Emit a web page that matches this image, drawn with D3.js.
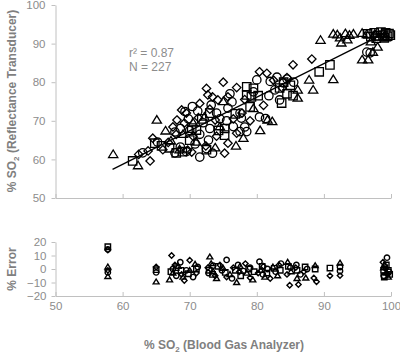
<!DOCTYPE html>
<html>
<head>
<meta charset="utf-8">
<script src="https://cdn.jsdelivr.net/npm/d3@7"></script>
<style>
  body { margin: 0; background: #fff; }
  text { font-family: "Liberation Sans", Arial, sans-serif; }
</style>
</head>
<body>
<div id="chart"></div>
<script>
// data: top panel [blood gas SO2, transducer SO2]
const triTop = [[58.6,61.3],[62.3,58.4],[65.1,70.2],[66.4,67.4],[70.5,69.5],[72.2,71],[73.8,63],[76.9,63.5],[75,75],[79.5,73.2],[81.6,70.2],[82.3,69.8],[86.1,78],[86.1,75.9],[87.8,80.6],[88.4,78],[91.4,80.7],[89.5,90.9],[91.4,92.5],[92,92.3],[92.6,90.2],[93.2,92.6],[93.8,92.2],[94.4,92.5],[95.7,92.7],[96.4,92.4],[95.7,85.8],[96.6,85.8],[97.3,87.8],[98,89.1],[97.6,92.5],[98.2,91.7],[98.8,92.6],[99.2,91.5],[92.4,91.5],[93.5,91],[97,90.5],[68.5,62.5],[67.2,64.8],[71,64.5],[78,65.5],[80.5,67.5],[74.5,68.5],[69,66.5]];
const diaTop = [[62.4,61.3],[63.8,62.2],[64.1,59.6],[64.5,65.5],[66.8,64.4],[67.5,68.4],[68.1,70.2],[68.8,72.8],[69.5,72],[69.7,62.4],[70.3,61.9],[72.5,78.4],[75,80],[77,78.6],[72.7,76.7],[73.4,76.2],[74.2,75.4],[75.7,76.2],[71.5,74.5],[73,73],[75.7,64.2],[75.2,61.6],[74,66],[72.4,63.5],[76.5,70.5],[77.8,72],[80.4,82.7],[81.5,82.3],[85.4,84.5],[88.2,86],[82.5,80.5],[83.8,78.5],[79,70],[81,74],[70.5,66],[68,66.5],[66,62.5],[71.3,70.8],[84.5,81.2],[78.2,75.5],[77,66.8],[73.8,70.2],[69.2,69.4]];
const cirTop = [[63,61.7],[65.2,64.5],[67.8,61.7],[68.6,63.2],[69.5,62],[67.8,67.1],[68.6,68],[69.3,72.4],[70.4,73.7],[71.5,60.6],[73.4,61.6],[72.5,62.8],[75.7,73.3],[76.3,74.9],[77.5,67.2],[78.2,68.4],[77.7,70.7],[77.5,72],[78.5,67.2],[80.4,71],[81.3,70.6],[80,80.6],[82,80.2],[83,81.3],[84,79.8],[84.5,80.8],[83.4,75.4],[72,69.5],[73,68],[71.5,66.5],[74.5,70.5],[70.8,64],[72.8,65],[76,77],[74,72],[73.2,74.1],[70,67.5],[69.8,70.5],[71.2,72.5],[79.5,77.5],[81.8,76.5],[96.4,87.8],[96.9,87.6],[85.5,80],[76.5,68.5],[75.5,70],[82.7,78]];
const sqTop = [[61.5,59.6],[65.8,63.5],[64.8,64.2],[68,61.7],[68.9,62],[70.3,68.1],[71,67.6],[75.2,68],[75.2,66.3],[73,72],[71.8,70.5],[76.8,71.8],[74.3,67.5],[72.5,62.5],[78.5,78.8],[79.5,78.4],[78.5,76.7],[79.2,76.2],[79,73.6],[83.7,74.6],[83.4,78.5],[84.5,77],[85.4,76.5],[84,80],[89.3,82.7],[90.9,84.5],[96.5,92.5],[97,91.8],[97.5,92.8],[98,92],[98.5,93],[98.8,92.2],[99.2,92.8],[99.5,91.9],[99.7,92.6],[99.9,92.2],[97.8,91.4],[99,91.5],[85,79.2],[80.2,76.5],[70,65],[67,63]];

// data: bottom panel [blood gas SO2, % error]
const triErr = [[57.8,1.5],[57.8,-5.5],[65,-9.5],[67,-8],[67.5,-3],[68.3,2],[69,-6],[70,-1],[70.8,3.5],[73,9],[73.2,4],[73.5,-2],[74,-7],[75,0.5],[76,-4],[77,-10],[77.5,2],[78.5,-3],[79.4,-8],[80.6,-1],[81.2,-6],[82.4,1.5],[83.1,-5],[84.6,5],[85.1,-2],[86,-7],[87.3,-6.7],[88.7,2.5],[92.4,4.4],[99,3],[99.3,-3],[99.6,-6],[98.9,1]];
const diaErr = [[57.8,14],[57.8,-1],[65,1.5],[67.3,10],[67.8,3],[68.8,-4],[69.2,-8.5],[70,6.5],[71,-3],[72.7,1],[73.8,-5],[74.5,3],[75.5,-6],[76.5,1],[77.4,-2],[78.3,4],[79,-6.5],[80.2,-3],[81,2],[82,-7],[83.3,3],[84.5,-4],[84.9,-12],[86.2,-11.5],[85.8,1],[87,-2],[88.5,-6.7],[88.9,-9.4],[90.9,-5],[92.4,-4.9],[99.2,0],[99.5,-4],[98.8,5]];
const cirErr = [[57.8,14.5],[57.8,-2.5],[65,-2.5],[67.5,0],[68,-5],[68.6,5],[69.5,-1],[70.5,-6],[71.2,1.5],[72.8,-3],[73.5,2.5],[74.8,-1],[75.5,6.7],[76.3,-7],[77.2,3],[78,-1.5],[79,1],[80.4,5.4],[80.9,-4],[81.6,0],[82.8,-2],[83.6,4],[85,1],[85.9,3],[86.5,-4],[87.5,0],[92.4,1.5],[92.4,-1.5],[99.4,8.4],[99.1,2],[99.7,-2],[98.9,-5]];
const sqErr = [[57.8,16.5],[65,-0.5],[67.2,-2],[68,1],[68.7,-1],[69.8,-3.5],[71,0],[72.9,-1],[73.4,-4],[74.2,2],[75.3,-2.5],[76.8,-1],[77.6,-5],[78.8,0],[79.6,-2],[80.8,2],[81.5,-3],[82.6,0.5],[83.5,-1],[84.7,2],[86,-1],[87.2,1.5],[88.7,0],[90.9,0.7],[98.9,-1],[99.3,3],[99.6,-1],[99.8,-4],[99,-6]];

const xTicks = [50, 60, 70, 80, 90, 100];
const yTopTicks = [50, 60, 70, 80, 90, 100];
const yErrTicks = [-20, -10, 0, 10, 20];
const fitSlope = 0.87, fitIntercept = 6.5, fitRange = [58.5, 99];
const statLines = ["r² = 0.87", "N  = 227"];

const width = 400, height = 353;
const axisGray = "#c0c0c0", labelGray = "#8c8c8c", titleGray = "#7f7f7f";

const svg = d3.select("#chart").append("svg")
    .attr("width", width)
    .attr("height", height);
svg.append("rect").attr("width", width).attr("height", height).attr("fill", "#fff");

// scales
const x = d3.scaleLinear().domain([50, 100]).range([55.5, 391]);
const yTop = d3.scaleLinear().domain([50, 100]).range([198, 5]);
const yErr = d3.scaleLinear().domain([-20, 20]).range([296, 242]);

// marker shapes, s = half size
const shapes = {
    tri: s => `M0,${-s * 1.05}L${s * 1.1},${s * 0.75}L${-s * 1.1},${s * 0.75}Z`,
    dia: s => `M0,${-s}L${s},0L0,${s}L${-s},0Z`,
    cir: s => `M${s},0A${s},${s} 0 1,1 ${-s},0A${s},${s} 0 1,1 ${s},0Z`,
    sq: s => `M${-s},${-s}H${s}V${s}H${-s}Z`
};

function styleAxis(g) {
    g.selectAll(".domain").attr("stroke", axisGray).attr("stroke-width", 1);
    g.selectAll(".tick line").attr("stroke", axisGray);
    g.selectAll(".tick text").attr("fill", labelGray).attr("font-size", 11.5)
        .attr("font-family", "'Liberation Sans', Arial, sans-serif");
}

// top panel axes
svg.append("g")
    .attr("transform", `translate(0,${yTop(50)})`)
    .call(d3.axisBottom(x).tickValues(xTicks).tickSize(-4).tickSizeOuter(0).tickFormat(""))
    .call(styleAxis);
svg.append("g")
    .attr("transform", `translate(${x(50)},0)`)
    .call(d3.axisLeft(yTop).tickValues(yTopTicks).tickSize(4).tickSizeOuter(0).tickPadding(6))
    .call(styleAxis);

// bottom panel axes
svg.append("g")
    .attr("transform", `translate(0,${yErr(-20)})`)
    .call(d3.axisBottom(x).tickValues(xTicks).tickSize(-4).tickSizeOuter(0).tickPadding(6))
    .call(styleAxis);
svg.append("g")
    .attr("transform", `translate(${x(50)},0)`)
    .call(d3.axisLeft(yErr).tickValues(yErrTicks).tickSize(4).tickSizeOuter(0).tickPadding(5))
    .call(styleAxis);

// top points
const topSets = [["tri", triTop], ["dia", diaTop], ["cir", cirTop], ["sq", sqTop]];
const topG = svg.append("g");
topSets.forEach(([shape, data]) => {
    topG.selectAll(null)
        .data(data)
        .enter()
        .append("path")
            .attr("d", shapes[shape](4.2))
            .attr("transform", d => `translate(${x(d[0])},${yTop(d[1])})`)
            .attr("fill", "none")
            .attr("stroke", "#000")
            .attr("stroke-width", 1.3);
});

// regression line
svg.append("line")
    .attr("x1", x(fitRange[0]))
    .attr("y1", yTop(fitSlope * fitRange[0] + fitIntercept))
    .attr("x2", x(fitRange[1]))
    .attr("y2", yTop(fitSlope * fitRange[1] + fitIntercept))
    .attr("stroke", "#000")
    .attr("stroke-width", 1.3);

// error points
const errSets = [["tri", triErr], ["dia", diaErr], ["cir", cirErr], ["sq", sqErr]];
const errG = svg.append("g");
errSets.forEach(([shape, data]) => {
    errG.selectAll(null)
        .data(data)
        .enter()
        .append("path")
            .attr("d", shapes[shape](2.7))
            .attr("transform", d => `translate(${x(d[0])},${yErr(d[1])})`)
            .attr("fill", "none")
            .attr("stroke", "#000")
            .attr("stroke-width", 1.4);
});

// stats text
svg.selectAll(".stat")
    .data(statLines)
    .enter()
    .append("text")
        .attr("class", "stat")
        .attr("x", 129)
        .attr("y", (d, i) => 57 + i * 14)
        .attr("fill", labelGray)
        .attr("font-size", 12)
        .text(d => d);

// axis titles
function so2Title(g, rest) {
    g.append("tspan").text("% SO");
    g.append("tspan").attr("font-size", 8).attr("dy", 3).text("2");
    g.append("tspan").attr("dy", -3).text(rest);
}

const xTitle = svg.append("text")
    .attr("x", 224)
    .attr("y", 349)
    .attr("text-anchor", "middle")
    .attr("fill", titleGray)
    .attr("font-weight", "bold")
    .attr("font-size", 12);
so2Title(xTitle, " (Blood Gas Analyzer)");

const yTitle = svg.append("text")
    .attr("transform", "translate(16,101) rotate(-90)")
    .attr("text-anchor", "middle")
    .attr("fill", titleGray)
    .attr("font-weight", "bold")
    .attr("font-size", 12);
so2Title(yTitle, " (Reflectance Transducer)");

svg.append("text")
    .attr("transform", "translate(16,269) rotate(-90)")
    .attr("text-anchor", "middle")
    .attr("fill", titleGray)
    .attr("font-weight", "bold")
    .attr("font-size", 12)
    .text("% Error");
</script>
</body>
</html>
